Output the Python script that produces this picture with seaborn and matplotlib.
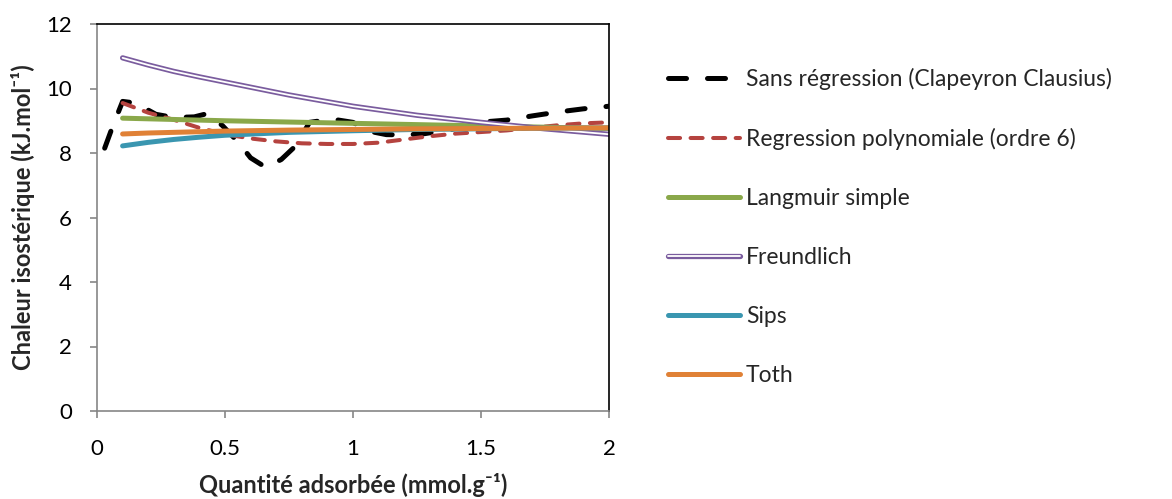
import numpy as np
import pandas as pd
import matplotlib
matplotlib.use("Agg")
import matplotlib.pyplot as plt
import matplotlib.patheffects as pe
import seaborn as sns

# valeurs
x_exp = [0.03, 0.06, 0.10, 0.15, 0.23, 0.30, 0.38, 0.43, 0.49, 0.55, 0.60, 0.66, 0.72,
         0.78, 0.83, 0.92, 1.00, 1.06, 1.13, 1.20, 1.28, 1.36, 1.44, 1.52, 1.60, 1.70,
         1.80, 1.90, 2.00]
y_sans_reg = [8.15, 8.80, 9.60, 9.55, 9.20, 9.10, 9.12, 9.22, 8.85, 8.35, 7.85, 7.55, 7.80,
              8.25, 8.95, 9.05, 8.95, 8.68, 8.57, 8.56, 8.60, 8.70, 8.82, 8.97, 9.02, 9.15,
              9.27, 9.37, 9.45]

x_poly = [0.1, 0.2, 0.3, 0.4, 0.5, 0.6, 0.7, 0.8, 0.9, 1.0, 1.1, 1.2, 1.3, 1.4, 1.5, 1.6,
          1.7, 1.8, 1.9, 2.0]
y_poly = [9.55, 9.25, 9.03, 8.78, 8.58, 8.45, 8.36, 8.30, 8.28, 8.28, 8.32, 8.42, 8.52,
          8.60, 8.65, 8.70, 8.78, 8.86, 8.92, 8.95]

x_mod = [0.1, 0.2, 0.3, 0.4, 0.5, 0.75, 1.0, 1.25, 1.5, 1.75, 2.0]
y_langmuir = [9.08, 9.06, 9.04, 9.02, 9.00, 8.96, 8.92, 8.88, 8.84, 8.80, 8.76]
y_freundlich = [10.95, 10.73, 10.53, 10.36, 10.20, 9.80, 9.45, 9.17, 8.95, 8.75, 8.58]
y_sips = [8.22, 8.33, 8.42, 8.49, 8.55, 8.64, 8.69, 8.73, 8.75, 8.77, 8.78]
y_toth = [8.59, 8.62, 8.64, 8.66, 8.68, 8.71, 8.73, 8.75, 8.76, 8.77, 8.78]

labels = ["Sans régression (Clapeyron Clausius)", "Regression polynomiale (ordre 6)",
          "Langmuir simple", "Freundlich", "Sips", "Toth"]


def main():
    sns.set_style("white")
    plt.rcParams["font.family"] = ["Lato", "DejaVu Sans"]

    fig = plt.figure(figsize=(11.72, 4.99), dpi=100)
    ax = fig.add_axes([97 / 1172, 1 - 411 / 499, 512 / 1172, 387 / 499])

    sns.lineplot(x=x_exp, y=y_sans_reg, ax=ax, color="black", lw=3.6,
                 dashes=(3.6, 4.2), dash_capstyle="round", label=labels[0])
    sns.lineplot(x=x_poly, y=y_poly, ax=ax, color="#b5433f", lw=2.9,
                 dashes=(3.0, 2.6), dash_capstyle="round", label=labels[1])
    sns.lineplot(x=x_mod, y=y_langmuir, ax=ax, color="#8aa84a", lw=3.6,
                 solid_capstyle="round", label=labels[2])
    sns.lineplot(x=x_mod, y=y_freundlich, ax=ax, color="white", lw=1.3,
                 solid_capstyle="round", label=labels[3],
                 path_effects=[pe.Stroke(linewidth=3.8, foreground="#7a5c9e"), pe.Normal()])
    sns.lineplot(x=x_mod, y=y_sips, ax=ax, color="#3a96b0", lw=3.6,
                 solid_capstyle="round", label=labels[4])
    sns.lineplot(x=x_mod, y=y_toth, ax=ax, color="#e08136", lw=3.6,
                 solid_capstyle="round", label=labels[5])

    ax.set_xlim(0, 2)
    ax.set_ylim(0, 12)
    ax.set_xticks([0, 0.5, 1, 1.5, 2])
    ax.set_xticklabels(["0", "0.5", "1", "1.5", "2"])
    ax.set_yticks(range(0, 13, 2))
    ax.tick_params(axis="both", which="both", direction="out", length=5, width=1.2,
                   color="#868686", labelsize=16, pad=13, labelcolor="black")
    ax.tick_params(axis="x", bottom=True, pad=15)
    ax.tick_params(axis="y", left=True)

    for side in ["left", "bottom"]:
        ax.spines[side].set_color("#868686")
        ax.spines[side].set_linewidth(1.2)
    for side in ["top", "right"]:
        ax.spines[side].set_color("black")
        ax.spines[side].set_linewidth(1.2)

    ax.set_xlabel("Quantité adsorbée (mmol.g⁻¹)", fontsize=17, fontweight="bold", labelpad=10)
    ax.set_ylabel("Chaleur isostérique (kJ.mol⁻¹)", fontsize=17, fontweight="bold", labelpad=8)

    ax.legend(loc="upper left", bbox_to_anchor=(668 / 1172, 1 - 68 / 499),
              bbox_transform=fig.transFigure, frameon=False, fontsize=16.5,
              handlelength=3.15, handletextpad=0.25, labelspacing=1.66,
              borderpad=0, borderaxespad=0)

    fig.savefig("out.png", dpi=100)
    plt.close(fig)


if __name__ == "__main__":
    main()
